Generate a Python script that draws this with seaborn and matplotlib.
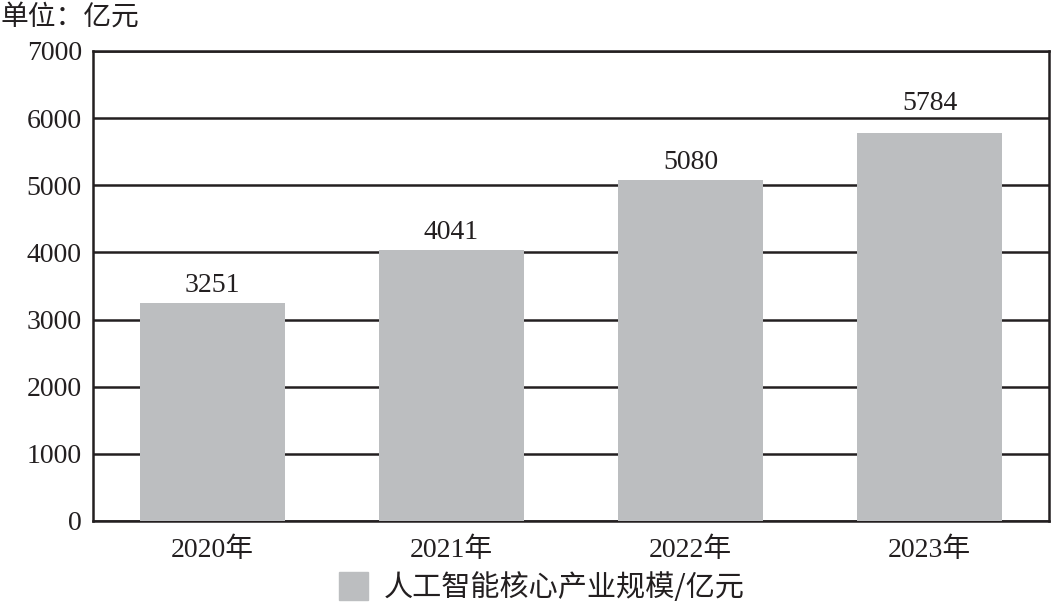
import pandas as pd
import numpy as np
import matplotlib.pyplot as plt
import seaborn as sns
from matplotlib.patches import Patch

sns.set_style('white')
plt.rcParams['font.family'] = ['Liberation Serif', 'Noto Sans CJK SC']

years = ['2020年', '2021年', '2022年', '2023年']
scale = [3251, 4041, 5080, 5784]
series_name = '人工智能核心产业规模/亿元'
bar_color = '#bcbec0'
ink = '#231f20'

df = pd.DataFrame({'year': years, 'value': scale})

fig = plt.figure(figsize=(10.52, 6.10), dpi=100)
ax = fig.add_axes([93 / 1052, 1 - 521 / 610, 956 / 1052, 470 / 610])
sns.barplot(df, x='year', y='value', color=bar_color, width=0.61, ax=ax,
            saturation=1, linewidth=0, zorder=3)
ax.set_ylim(0, 7000)
ax.set_yticks(np.arange(0, 7001, 1000))
ax.set_xlim(-0.5, 3.5)
ax.grid(axis='y', color=ink, linewidth=1.8, zorder=0)
ax.set_axisbelow(True)
for s in ax.spines.values():
    s.set_visible(True)
    s.set_color(ink)
    s.set_linewidth(1.8)
ax.tick_params(axis='y', length=0, labelsize=20, colors=ink, pad=8)
ax.tick_params(axis='x', length=0, labelsize=20, colors=ink, pad=12)
ax.set_xlabel('')
ax.set_ylabel('')
# last label sits above the 6000 gridline in the original
offsets = [70, 70, 70, 250]
for i, v in enumerate(scale):
    ax.text(i, v + offsets[i], str(v), ha='center', va='bottom', fontsize=20, color=ink)

fig.text(0.0, 0.998, '单位：亿元', ha='left', va='top', color=ink,
         family=['Noto Sans CJK SC'], fontsize=20)
leg = fig.legend(handles=[Patch(color=bar_color, label=series_name)], loc='lower center',
                 bbox_to_anchor=(0.515, -0.032), frameon=False,
                 handlelength=1.0, handleheight=1.1, handletextpad=0.55,
                 prop={'family': ['Noto Sans CJK SC'], 'size': 21})
for t in leg.get_texts():
    t.set_color(ink)

plt.savefig('out.png', dpi=100)
